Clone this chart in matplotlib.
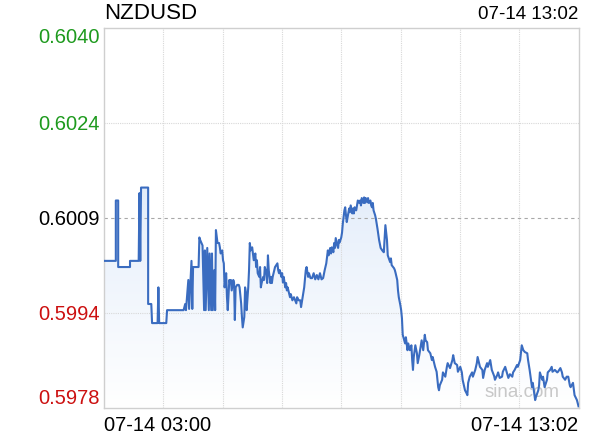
import numpy as np
import matplotlib.pyplot as plt
from matplotlib.colors import LinearSegmentedColormap

plt.rcParams['font.family'] = ['Liberation Sans', 'DejaVu Sans']

symbol = "NZDUSD"
last_time = "07-14 13:02"
start_label = "07-14 03:00"
prev_close = 0.6009

# minutes since 07-14 03:00
minutes = [
    0, 15, 15, 18, 18, 33, 33, 44, 45, 46, 47, 56, 56, 60, 61, 68, 69, 70, 79, 80,
    101, 103, 104, 107, 108, 111, 112, 113, 120, 121, 122,
    125, 127, 128, 129, 131, 133, 134, 136, 137, 138, 140, 141, 142, 144, 146, 147, 148, 150,
    151, 152, 153, 155, 156, 157, 159, 160, 161, 162, 164, 165, 166, 167, 169, 171, 172, 174,
    175, 176, 178, 179, 180, 181, 183, 184, 185, 186, 188, 189, 190, 192, 193, 194, 195, 197,
    198, 199, 200, 202, 203, 204, 206, 207, 208, 209, 211, 212, 213, 214, 216, 217, 220, 221,
    222, 223, 225, 226, 227, 228, 230, 231, 232, 233, 236, 237, 239, 241, 244, 245, 247,
    249, 250, 252, 254, 256, 257, 259, 260, 262, 264, 266, 268, 270, 272, 274, 276, 278, 280,
    282, 284, 285, 287, 288, 289, 291, 292, 293, 294, 296, 297, 298, 299, 301, 302, 303, 305,
    306, 307, 308, 310, 311, 312, 313, 315, 316, 317, 318, 320, 321, 322, 324, 325, 326, 327,
    329, 330, 331, 332, 334, 335, 336, 338, 339, 340, 341, 342, 344, 345, 347, 349, 351, 353,
    355, 357, 359, 360, 363, 364, 365, 368, 369, 370, 372, 373, 374, 376, 377, 378, 379, 381,
    382, 383, 385, 386, 388, 390, 391, 392, 393, 395, 397, 398, 400, 401, 403, 405, 407, 408,
    410, 411, 414, 416, 417, 420, 422, 424, 425, 426, 429, 430, 433, 435, 436, 439, 442, 443,
    445, 448, 449, 452, 454, 455, 458, 460, 461, 462, 464, 467, 468, 471, 473, 474, 477, 480,
    481, 483, 486, 487, 490,
    492, 495, 496, 499, 500, 502, 505, 506, 509, 511, 513, 515, 518, 519, 521, 524, 525, 528,
    530, 532, 534, 537, 538, 540, 543, 544, 547, 548, 551, 552, 553, 556, 557, 559, 562, 563,
    566, 568, 569, 572, 575, 576, 579, 581, 582, 585, 587, 589, 591, 592, 595, 597, 600, 602,
]

price = [
    0.60020, 0.60020, 0.60118, 0.60118, 0.60010, 0.60010, 0.60020, 0.60020, 0.60130, 0.60020,
    0.60139, 0.60139, 0.59950, 0.59950, 0.59919, 0.59919, 0.59977, 0.59919, 0.59919, 0.59940,
    0.59940, 0.59950, 0.59940, 0.59989, 0.59942, 0.60020, 0.59942, 0.60010, 0.60010, 0.60058,
    0.60054,
    0.60045, 0.59940, 0.60037, 0.59940, 0.60041, 0.59940, 0.60032, 0.59940, 0.60032, 0.59940,
    0.60005, 0.59940, 0.60070, 0.60049, 0.60049, 0.60042, 0.60032, 0.60037,
    0.60021, 0.60016, 0.59977, 0.60000, 0.59961, 0.59940, 0.59989, 0.59984, 0.59989, 0.59972,
    0.59989, 0.59985, 0.59924, 0.59977, 0.59981, 0.59981, 0.59977, 0.59951,
    0.59929, 0.59912, 0.59929, 0.59977, 0.59969, 0.59940, 0.59977, 0.60005, 0.60049, 0.60037,
    0.60042, 0.60032, 0.60021, 0.60032, 0.60010, 0.60021, 0.60000, 0.59994,
    0.60010, 0.59977, 0.59984, 0.59994, 0.59989, 0.60010, 0.60000, 0.59984, 0.60029, 0.60005,
    0.59984, 0.59994, 0.59984, 0.59994, 0.60005, 0.60010, 0.60016, 0.60005,
    0.60000, 0.60005, 0.59994, 0.60000, 0.59985, 0.59994, 0.59977, 0.59984, 0.59972, 0.59977,
    0.59961, 0.59966, 0.59956, 0.59961, 0.59951, 0.59961, 0.59956,
    0.59956, 0.59945, 0.59961, 0.59977, 0.60005, 0.60010, 0.59994, 0.60000, 0.59992, 0.59992,
    0.60000, 0.59990, 0.59997, 0.59990, 0.60000, 0.59990, 0.59992, 0.60005,
    0.60016, 0.60037, 0.60029, 0.60041, 0.60032, 0.60042, 0.60034, 0.60049, 0.60041, 0.60057,
    0.60045, 0.60041, 0.60054, 0.60050, 0.60058, 0.60066, 0.60081, 0.60102,
    0.60107, 0.60094, 0.60083, 0.60097, 0.60105, 0.60099, 0.60110, 0.60097, 0.60105, 0.60097,
    0.60107, 0.60102, 0.60110, 0.60118, 0.60114, 0.60118, 0.60110, 0.60122,
    0.60114, 0.60123, 0.60114, 0.60122, 0.60115, 0.60122, 0.60114, 0.60118, 0.60110, 0.60107,
    0.60114, 0.60102, 0.60094, 0.60088, 0.60072, 0.60054, 0.60041, 0.60037,
    0.60034, 0.60078, 0.60054, 0.60029, 0.60018, 0.60024, 0.60013, 0.60008, 0.60005, 0.60000,
    0.59989, 0.59972, 0.59961, 0.59948, 0.59940, 0.59927, 0.59900, 0.59891,
    0.59886, 0.59896, 0.59875, 0.59886, 0.59875, 0.59883, 0.59859, 0.59843, 0.59864, 0.59883,
    0.59870, 0.59854, 0.59867, 0.59875, 0.59891, 0.59875, 0.59900, 0.59891,
    0.59888, 0.59875, 0.59870, 0.59859, 0.59864, 0.59848, 0.59840, 0.59815, 0.59810, 0.59818,
    0.59827, 0.59839, 0.59832, 0.59848, 0.59854, 0.59846, 0.59859, 0.59867,
    0.59854, 0.59851, 0.59840, 0.59848, 0.59839, 0.59827, 0.59810, 0.59805, 0.59802, 0.59822,
    0.59832, 0.59839, 0.59832, 0.59843, 0.59854, 0.59864, 0.59848, 0.59843,
    0.59830, 0.59843, 0.59854, 0.59848, 0.59859,
    0.59843, 0.59833, 0.59827, 0.59835, 0.59839, 0.59830, 0.59832, 0.59840, 0.59848, 0.59839,
    0.59830, 0.59836, 0.59832, 0.59839, 0.59843, 0.59851, 0.59848, 0.59859,
    0.59883, 0.59875, 0.59872, 0.59870, 0.59859, 0.59843, 0.59815, 0.59822, 0.59794, 0.59799,
    0.59810, 0.59818, 0.59839, 0.59827, 0.59832, 0.59815, 0.59827, 0.59839,
    0.59843, 0.59848, 0.59840, 0.59843, 0.59839, 0.59840, 0.59846, 0.59839, 0.59832, 0.59827,
    0.59832, 0.59832, 0.59818, 0.59815, 0.59822, 0.59802, 0.59794, 0.59784,
]

yticks = [0.60398, 0.60244, 0.60090, 0.59936, 0.59782]
ylabels = ["0.6040", "0.6024", "0.6009", "0.5994", "0.5978"]
ycolors = ["#1e9a1e", "#1e9a1e", "#000000", "#cc1010", "#cc1010"]

t = np.array(minutes)
p = np.array(price)
ymin, ymax = yticks[-1], yticks[0]
tmax = t[-1]

fig = plt.figure(figsize=(5.89, 4.37), dpi=100)
ax = fig.add_axes([104 / 589, 1 - 407.5 / 437, 474.5 / 589, 379.5 / 437])

# gradient fill under the line
poly = ax.fill_between(t, p, ymin, facecolor='none', edgecolor='none')
cmap = LinearSegmentedColormap.from_list('fade', ['#ffffff', '#e8f0fb', '#bcd2f2'])
grad = np.linspace(0, 1, 256).reshape(-1, 1)
im = ax.imshow(grad, cmap=cmap, extent=[0, tmax, ymin, ymax], origin='lower',
               aspect='auto', zorder=1)
im.set_clip_path(poly.get_paths()[0], ax.transData)

ax.plot(t, p, color='#3a6cc0', lw=1.5, zorder=4, solid_joinstyle='round')

# grid
for xg in np.linspace(0, tmax, 9)[1:-1]:
    ax.axvline(xg, color='#d8d8d8', lw=0.8, ls=(0, (1, 1)), zorder=2)
for yg in [yticks[1], yticks[3]]:
    ax.axhline(yg, color='#d8d8d8', lw=0.8, ls=(0, (1, 1)), zorder=2)
ax.axhline(prev_close, color='#a8a8a8', lw=0.8, ls=(0, (3, 3)), zorder=2)

ax.set_xlim(0, tmax)
ax.set_ylim(ymin, ymax)
for s in ax.spines.values():
    s.set_color('#cfcfcf')
    s.set_linewidth(1.0)

ax.set_yticks(yticks)
ax.set_yticklabels(ylabels, fontsize=14.5)
ax.tick_params(axis='y', length=0, pad=3)
for lab, c in zip(ax.get_yticklabels(), ycolors):
    lab.set_color(c)
ax.get_yticklabels()[0].set_va('top')
ax.get_yticklabels()[-1].set_va('bottom')

ax.set_xticks([0, tmax])
ax.set_xticklabels([start_label, last_time], fontsize=14.5)
ax.tick_params(axis='x', length=0, pad=6)
ax.get_xticklabels()[0].set_ha('left')
ax.get_xticklabels()[1].set_ha('right')

ax.text(0.0, 1.01, symbol, transform=ax.transAxes, fontsize=16, ha='left', va='bottom')
ax.text(1.0, 1.012, last_time, transform=ax.transAxes, fontsize=13.5, ha='right', va='bottom')
ax.text(0.88, 0.04, "sina.com", transform=ax.transAxes, fontsize=13.5, color='#c8c8c8',
        ha='center', va='center', zorder=3)

fig.savefig("out.png", dpi=100)
